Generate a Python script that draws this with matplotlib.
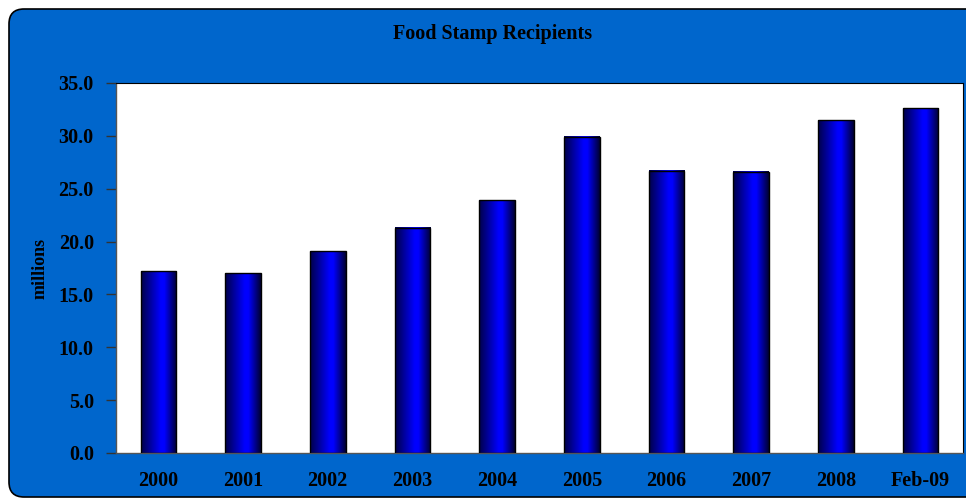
import numpy as np
import matplotlib
matplotlib.use("Agg")
import matplotlib.pyplot as plt
from matplotlib.patches import FancyBboxPatch
from matplotlib.colors import LinearSegmentedColormap

categories = ["2000", "2001", "2002", "2003", "2004", "2005", "2006", "2007", "2008", "Feb-09"]
recipients = [17.2, 17.0, 19.1, 21.3, 23.9, 29.9, 26.7, 26.6, 31.5, 32.6]
yticks = [0, 5, 10, 15, 20, 25, 30, 35]

W, H = 966, 499
fig = plt.figure(figsize=(W / 100, H / 100), dpi=100)
fig.patch.set_facecolor("white")

# background layer in pixel units holding the rounded blue panel
bg = fig.add_axes([0, 0, 1, 1], zorder=-5)
bg.set_xlim(0, W)
bg.set_ylim(H, 0)
bg.axis("off")
panel = FancyBboxPatch((9, 9), 1100, H - 11,
                       boxstyle="round,pad=0,rounding_size=15",
                       facecolor="#0066CC", edgecolor="black", linewidth=1.2)
bg.add_patch(panel)

serif = ["Liberation Serif", "DejaVu Serif"]

ax = fig.add_axes([116 / W, 1 - 453 / H, (963 - 116) / W, (453 - 83) / H], zorder=1)
ax.set_facecolor("white")

x = np.arange(len(categories))
width = 0.42
bars = ax.bar(x, recipients, width=width, color="none", edgecolor="black",
              linewidth=1.0, zorder=3)

# horizontal shading inside each bar
cmap = LinearSegmentedColormap.from_list(
    "barshade", [(0.0, "#000048"), (0.55, "#0000FF"), (0.65, "#0000FF"), (1.0, "#000030")])
grad = np.linspace(0, 1, 256).reshape(1, -1)
for b in bars:
    ax.imshow(grad, cmap=cmap, aspect="auto", zorder=2,
              extent=(b.get_x(), b.get_x() + b.get_width(), 0, b.get_height()),
              interpolation="bilinear")

ax.set_xlim(-0.5, len(categories) - 0.5)
ax.set_ylim(0, 35)
ax.set_yticks(yticks)
ax.set_yticklabels([f"{v:.1f}" for v in yticks])
ax.set_xticks(x)
ax.set_xticklabels(categories)

for lab in ax.get_xticklabels() + ax.get_yticklabels():
    lab.set_fontfamily(serif)
    lab.set_fontweight("bold")
    lab.set_fontsize(14.5)
    lab.set_color("black")

ax.tick_params(axis="y", direction="out", length=7, width=1, color="#333333", pad=9)
ax.tick_params(axis="x", length=0, pad=13)

for side in ["left", "bottom"]:
    ax.spines[side].set_color("#555555")
    ax.spines[side].set_linewidth(1.0)
ax.spines["top"].set_color("black")
ax.spines["right"].set_color("black")

ax.set_ylabel("millions", fontfamily=serif, fontweight="bold", fontsize=13, labelpad=7)

fig.text(493 / W, 1 - 34 / H, "Food Stamp Recipients", ha="center", va="center",
         fontfamily=serif, fontweight="bold", fontsize=14.5)

fig.savefig("out.png", dpi=100, facecolor=fig.get_facecolor())
